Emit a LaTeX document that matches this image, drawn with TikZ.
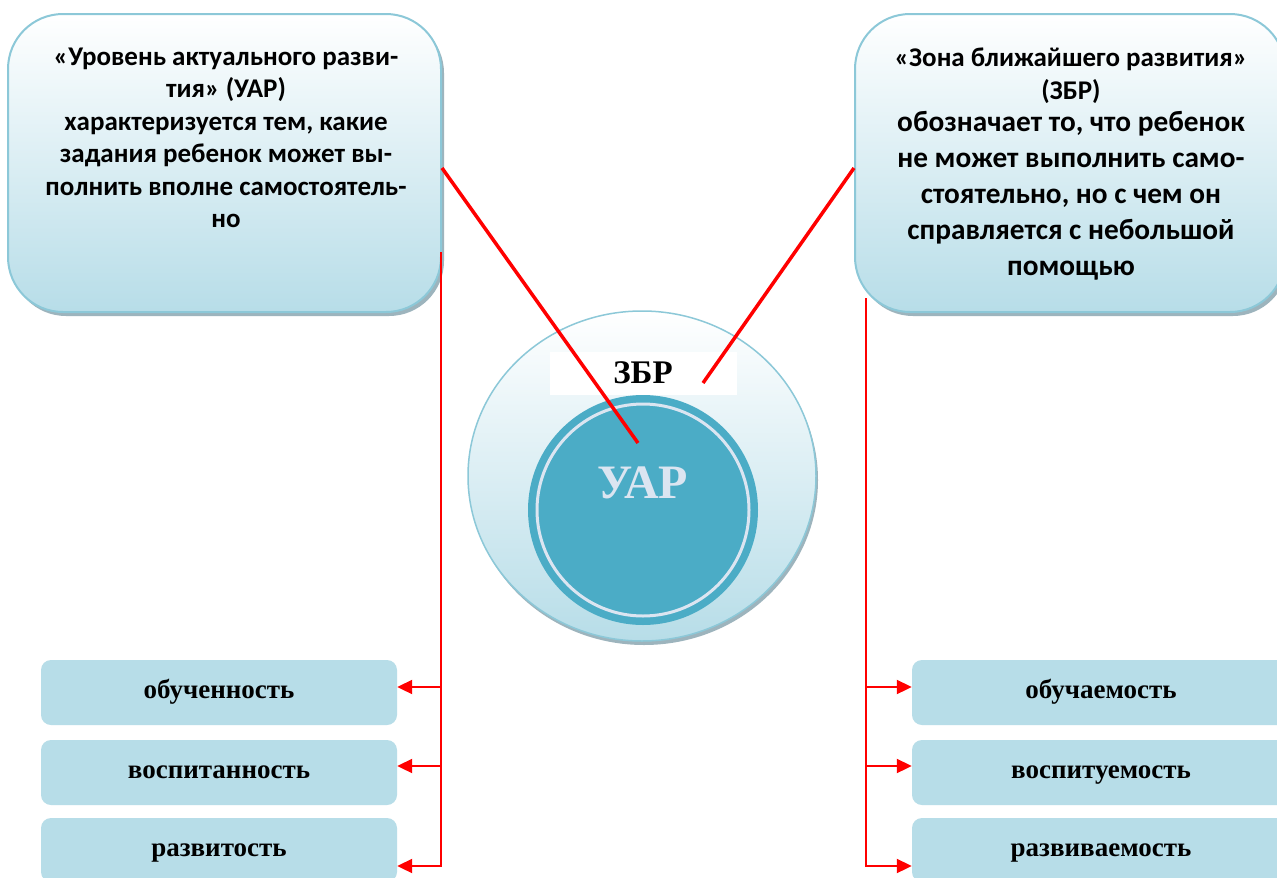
\documentclass[tikz,border=0pt]{standalone}
\usepackage{fontspec}
\setmainfont{Liberation Serif}
\newfontfamily\calfont{Carlito}
\usetikzlibrary{arrows.meta,shapes.geometric,shadows,calc}
\definecolor{boxc}{HTML}{B7DDE8}
\definecolor{edgec}{HTML}{8CC8D8}
\definecolor{tealc}{HTML}{4BACC6}
\definecolor{uarc}{HTML}{DBE5F1}
\definecolor{shadc}{HTML}{9DB4BD}
\newcommand{\bodyfnt}{\fontsize{29.3}{36}\selectfont}
\tikzset{
  bigbox/.style={rectangle, rounded corners=55pt, draw=edgec, line width=2pt,
    top color=white, bottom color=boxc, inner sep=0pt,
    drop shadow={shadow xshift=3pt, shadow yshift=-4pt, fill=shadc, opacity=1}},
  topfont/.style={font=\calfont\bfseries\fontsize{27}{32.5}\selectfont, align=center, inner sep=0pt},
  smallbox/.style={rectangle, rounded corners=10pt, fill=boxc, inner sep=0pt,
    minimum width=356pt, minimum height=65pt, text height=18pt, text depth=6pt,
    font=\bfseries\fontsize{27}{30}\selectfont},
  redl/.style={draw=red, line width=3.5pt},
  vline/.style={draw=red, line width=2pt},
  arr/.style={vline, -{Triangle[length=15pt,width=14pt]}}
}
\begin{document}
\begin{tikzpicture}[x=1pt,y=-1pt]
\useasboundingbox (0,0) rectangle (1277,878);
\clip (0,0) rectangle (1277,878);
\fill[white] (0,0) rectangle (1277,878);

% top boxes
\node[bigbox, minimum width=433pt, minimum height=298pt] (topL) at (224.5,163) {};
\node[bigbox, minimum width=430pt, minimum height=298pt] (topR) at (1070,163) {};

\node[topfont] (txtL) at (226,138) {«Уровень актуального разви-\\тия» (УАР)\\характеризуется тем, какие\\задания ребенок может вы-\\полнить вполне самостоятель-\\но};

\node[topfont] (txtR) at (1071,164.5) {«Зона ближайшего развития»\\(ЗБР)\\\bodyfnt обозначает то, что ребенок\\[3.5pt]\bodyfnt не может выполнить само-\\[3.5pt]\bodyfnt стоятельно, но с чем он\\[3.5pt]\bodyfnt справляется с небольшой\\[3.5pt]\bodyfnt помощью};

% circles
\node[ellipse, minimum width=348pt, minimum height=330pt, inner sep=0pt,
  draw=edgec, line width=1.5pt, top color=white, bottom color=boxc,
  drop shadow={shadow xshift=2pt, shadow yshift=-4pt, fill=shadc, opacity=1}] (outer) at (642,476) {};
\node[circle, minimum size=230pt, inner sep=0pt, fill=tealc] (inner) at (643,510) {};
\node[circle, minimum size=212pt, inner sep=0pt, draw=uarc, line width=3pt] (ring) at (643,510) {};
\node[rectangle, fill=white, minimum width=187pt, minimum height=43pt, inner sep=0pt,
  font=\bfseries\fontsize{33}{36}\selectfont] (zbr) at (643,373) {ЗБР};
\node[text=uarc, inner sep=0pt, font=\bfseries\fontsize{48}{50}\selectfont] (uar) at (643,483) {УАР};

% bottom boxes
\node[smallbox] (b1) at (219,692.5) {обученность};
\node[smallbox] (b2) at (219,772.5) {воспитанность};
\node[smallbox, minimum height=64pt] (b3) at (219,850) {развитость};
\node[smallbox, minimum width=378pt] (r1) at (1101,692.5) {обучаемость};
\node[smallbox, minimum width=378pt] (r2) at (1101,772.5) {воспитуемость};
\node[smallbox, minimum width=378pt, minimum height=64pt] (r3) at (1101,850) {развиваемость};

% red diagonal connectors
\coordinate (Lend) at (638,443);
\coordinate (Rend) at (703,383);
\draw[redl] ([yshift=-5pt]topL.east) -- (Lend);
\draw[redl] ([yshift=-5pt]topR.west) -- (Rend);

% left tree
\coordinate (Ltop) at (441,252);
\coordinate (a1) at ($(b1.east)+(0,-5.5)$);
\coordinate (a2) at ($(b2.east)+(0,-6.5)$);
\coordinate (a3) at ($(b3.east)+(0,16)$);
\draw[arr] (Ltop) |- (a3);
\draw[arr] (Ltop |- a1) -- (a1);
\draw[arr] (Ltop |- a2) -- (a2);

% right tree
\coordinate (Rtop) at (866,298);
\coordinate (c1) at ($(r1.west)+(0,-5.5)$);
\coordinate (c2) at ($(r2.west)+(0,-6.5)$);
\coordinate (c3) at ($(r3.west)+(0,16)$);
\draw[arr] (Rtop) |- (c3);
\draw[arr] (Rtop |- c1) -- (c1);
\draw[arr] (Rtop |- c2) -- (c2);
\end{tikzpicture}
\end{document}
